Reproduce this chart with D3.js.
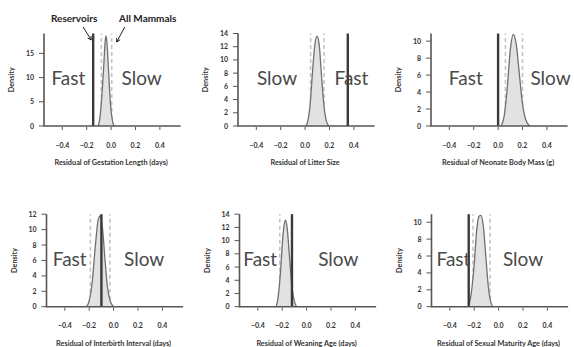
<!DOCTYPE html>
<html>
<head>
<meta charset="utf-8">
<script src="https://cdn.jsdelivr.net/npm/d3@7"></script>
<style>
body { margin: 0; background: #fff; }
svg { display: block; }
.tick-label { font-family: Lato, "DejaVu Sans", sans-serif; font-weight: 700; font-size: 7px; fill: #333; }
.axis-title { font-family: Lato, "DejaVu Sans", sans-serif; font-weight: 700; font-size: 7.3px; fill: #333; }
.speed { font-family: Lato, "Open Sans", sans-serif; font-weight: 400; font-size: 19px; fill: #4a4a4a; }
.note { font-family: Lato, "DejaVu Sans", sans-serif; font-weight: 700; font-size: 10px; fill: #222; }
</style>
</head>
<body>
<svg id="chart" width="574" height="347"></svg>
<script>
var titles = [
    "Residual of Gestation Length (days)",
    "Residual of Litter Size",
    "Residual of Neonate Body Mass (g)",
    "Residual of Interbirth Interval (days)",
    "Residual of Weaning Age (days)",
    "Residual of Sexual Maturity Age (days)"
];
var xTicks = [-0.4, -0.2, 0.0, 0.2, 0.4];
var yTicks = [
    [0, 5, 10, 15],
    [0, 2, 4, 6, 8, 10, 12, 14],
    [0, 2, 4, 6, 8, 10],
    [0, 2, 4, 6, 8, 10, 12],
    [0, 2, 4, 6, 8, 10, 12, 14],
    [0, 2, 4, 6, 8, 10]
];
var yTop = [19.1, 14, 10.9, 12, 14, 10.95];

// reservoir residual (solid line) and all-mammal interval (dashed lines)
var reservoirs = [-0.147, 0.35, 0.0, -0.1, -0.12, -0.245];
var mammalsLow = [-0.08, 0.045, 0.06, -0.19, -0.22, -0.21];
var mammalsHigh = [0.005, 0.155, 0.2, -0.03, -0.12, -0.07];

// density curves, [residual, density]
var densities = [
    [[-0.105, 0], [-0.09, 2], [-0.075, 6.5], [-0.06, 12.5], [-0.05, 17], [-0.043, 18.6], [-0.035, 17.5], [-0.02, 11], [-0.005, 4.5], [0.01, 1.2], [0.024, 0]],
    [[0.005, 0], [0.02, 0.6], [0.04, 3], [0.06, 8], [0.08, 12.3], [0.098, 13.6], [0.115, 12.4], [0.135, 7.5], [0.155, 3], [0.175, 0.7], [0.195, 0]],
    [[0.025, 0], [0.05, 1.2], [0.075, 4.5], [0.1, 9], [0.125, 10.8], [0.15, 9.5], [0.175, 6], [0.2, 2.6], [0.225, 0.8], [0.26, 0]],
    [[-0.22, 0], [-0.2, 0.8], [-0.175, 3.2], [-0.15, 7.8], [-0.125, 11.4], [-0.11, 11.8], [-0.09, 10], [-0.07, 6], [-0.05, 2.5], [-0.025, 0.6], [0.0, 0]],
    [[-0.25, 0], [-0.235, 1.2], [-0.215, 5], [-0.195, 10.5], [-0.18, 12.8], [-0.172, 13.1], [-0.16, 12], [-0.14, 7.5], [-0.12, 3], [-0.1, 0.8], [-0.083, 0]],
    [[-0.245, 0], [-0.225, 1.5], [-0.2, 5], [-0.18, 9], [-0.16, 10.7], [-0.145, 10.8], [-0.125, 9.5], [-0.105, 6], [-0.085, 2.5], [-0.065, 0.6], [-0.05, 0]]
];

var leftWords = ["Fast", "Slow", "Fast", "Fast", "Fast", "Fast"];
var rightWords = ["Slow", "Fast", "Slow", "Slow", "Slow", "Slow"];

// layout
var panelLeft = [[44, 238, 431], [46.5, 239.5, 431.5]];
var panelBase = [126, 306.7];
var plotHeight = 92.5;
var unit = 122;
var wordPos = [[-0.35, 0.25], [-0.23, 0.38], [-0.265, 0.43], [-0.36, 0.25], [-0.38, 0.26], [-0.37, 0.2]];

var svg = d3.select("#chart");

function drawPanel(i) {
    var row = Math.floor(i / 3), col = i % 3;
    var left = panelLeft[row][col];
    var base = panelBase[row];

    var x = d3.scaleLinear().domain([-0.55, 0.57]).range([left, left + 1.12 * unit]);
    var y = d3.scaleLinear().domain([0, yTop[i]]).range([base, base - plotHeight]);

    var g = svg.append("g");

    // dashed all-mammal bounds
    g.selectAll("line.mam")
        .data([mammalsLow[i], mammalsHigh[i]])
        .enter()
        .append("line")
        .attr("class", "mam")
        .attr("x1", function (d) { return x(d); })
        .attr("x2", function (d) { return x(d); })
        .attr("y1", y(0))
        .attr("y2", y(yTop[i]))
        .attr("stroke", "#c4c4c4")
        .attr("stroke-width", 1.6)
        .attr("stroke-dasharray", "4,3");

    var area = d3.area()
        .x(function (d) { return x(d[0]); })
        .y0(y(0))
        .y1(function (d) { return y(d[1]); })
        .curve(d3.curveMonotoneX);
    var line = d3.line()
        .x(function (d) { return x(d[0]); })
        .y(function (d) { return y(d[1]); })
        .curve(d3.curveMonotoneX);

    g.append("path")
        .datum(densities[i])
        .attr("d", area)
        .attr("fill", "#e2e2e2");
    g.append("path")
        .datum(densities[i])
        .attr("d", line)
        .attr("fill", "none")
        .attr("stroke", "#707070")
        .attr("stroke-width", 1.3);

    // reservoir line
    g.append("line")
        .attr("x1", x(reservoirs[i]))
        .attr("x2", x(reservoirs[i]))
        .attr("y1", y(0))
        .attr("y2", y(yTop[i]))
        .attr("stroke", "#3a3a3a")
        .attr("stroke-width", 2.4);

    // axes
    g.append("path")
        .attr("d", "M" + x(-0.55) + "," + y(yTop[i]) + "V" + y(0) + "H" + x(0.57))
        .attr("fill", "none")
        .attr("stroke", "#555")
        .attr("stroke-width", 1.6);

    g.selectAll("line.xt")
        .data(xTicks)
        .enter()
        .append("line")
        .attr("class", "xt")
        .attr("x1", function (d) { return x(d); })
        .attr("x2", function (d) { return x(d); })
        .attr("y1", y(0) + 1)
        .attr("y2", y(0) + 4)
        .attr("stroke", "#555")
        .attr("stroke-width", 1);
    g.selectAll("text.xl")
        .data(xTicks)
        .enter()
        .append("text")
        .attr("class", "tick-label")
        .attr("x", function (d) { return x(d); })
        .attr("y", y(0) + 21.5)
        .attr("text-anchor", "middle")
        .text(function (d) { return d3.format(".1f")(d).replace("-", "\u2212"); });

    g.selectAll("line.yt")
        .data(yTicks[i])
        .enter()
        .append("line")
        .attr("class", "yt")
        .attr("x1", x(-0.55) - 5)
        .attr("x2", x(-0.55))
        .attr("y1", function (d) { return y(d); })
        .attr("y2", function (d) { return y(d); })
        .attr("stroke", "#555")
        .attr("stroke-width", 1);
    g.selectAll("text.yl")
        .data(yTicks[i])
        .enter()
        .append("text")
        .attr("class", "tick-label")
        .attr("x", x(-0.55) - 10)
        .attr("y", function (d) { return y(d) + 2.5; })
        .attr("text-anchor", "end")
        .text(function (d) { return d; });

    g.append("text")
        .attr("class", "axis-title")
        .attr("transform", "translate(" + (x(-0.55) - 30) + "," + (base - plotHeight / 2) + ") rotate(-90)")
        .attr("text-anchor", "middle")
        .text("Density");

    g.append("text")
        .attr("class", "axis-title")
        .attr("x", x(0.0))
        .attr("y", y(0) + 39)
        .attr("text-anchor", "middle")
        .text(titles[i]);

    g.selectAll("text.speed")
        .data([[wordPos[i][0], leftWords[i]], [wordPos[i][1], rightWords[i]]])
        .enter()
        .append("text")
        .attr("class", "speed")
        .attr("x", function (d) { return x(d[0]); })
        .attr("y", base - 41)
        .attr("text-anchor", "middle")
        .text(function (d) { return d[1]; });

    if (i == 0) {
        var rx = x(reservoirs[0]), mx = x(mammalsHigh[0]);
        g.append("text").attr("class", "note")
            .attr("x", rx - 19).attr("y", 22)
            .attr("text-anchor", "middle").text("Reservoirs");
        g.append("text").attr("class", "note")
            .attr("x", mx + 36).attr("y", 22)
            .attr("text-anchor", "middle").text("All Mammals");
        drawArrow(g, rx - 10, 27, rx - 2, 40);
        drawArrow(g, mx + 13, 27, mx + 5, 42);
    }
}

function drawArrow(g, x1, y1, x2, y2) {
    var ang = Math.atan2(y2 - y1, x2 - x1);
    var len = 4;
    g.append("line")
        .attr("x1", x1).attr("y1", y1).attr("x2", x2).attr("y2", y2)
        .attr("stroke", "#222").attr("stroke-width", 1);
    g.append("path")
        .attr("d", "M" + x2 + "," + y2 +
            "L" + (x2 - len * Math.cos(ang - 0.5)) + "," + (y2 - len * Math.sin(ang - 0.5)) +
            "M" + x2 + "," + y2 +
            "L" + (x2 - len * Math.cos(ang + 0.5)) + "," + (y2 - len * Math.sin(ang + 0.5)))
        .attr("fill", "none").attr("stroke", "#222").attr("stroke-width", 1);
}

for (var i = 0; i < titles.length; i++) {
    drawPanel(i);
}
</script>
</body>
</html>
